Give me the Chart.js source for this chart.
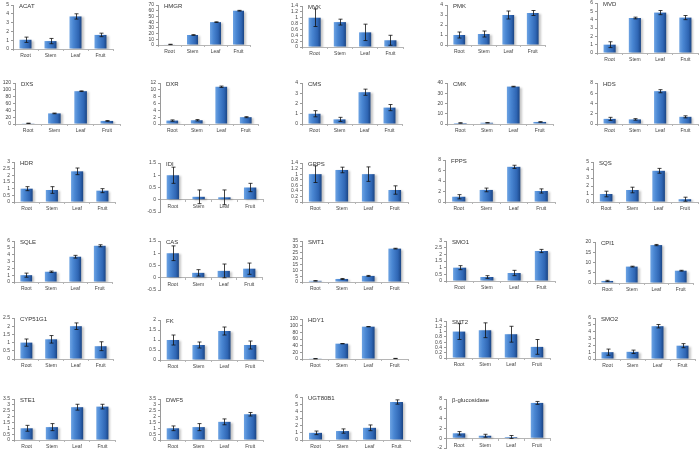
<!DOCTYPE html>
<html><head><meta charset="utf-8">
<script src="https://cdn.jsdelivr.net/npm/chart.js@4.4.1/dist/chart.umd.min.js"></script>
<style>
html,body{margin:0;padding:0;background:#fff;}
#wrap{position:relative;width:700px;height:452px;overflow:hidden;}
canvas{position:absolute;}
</style></head>
<body><div id="wrap"></div>
<script>
const categories = ['Root','Stem','Leaf','Fruit'];
const genes = ['ACAT','HMGR','MVK','PMK','MVD','DXS','DXR','CMS','CMK','HDS','HDR','IDI','GPPS','FPPS','SQS','SQLE','CAS','SMT1','SMO1','CPI1','CYP51G1','FK','HDY1','SMT2','SMO2','STE1','DWF5','UGT80B1','β-glucosidase'];
const expression = [
 [1.05,0.9,3.7,1.6],[1,17.5,40,60],[1.0,0.85,0.5,0.23],[1.0,1.1,3.0,3.2],[1.0,4.2,4.85,4.25],
 [2,31,96,9],[1.0,1.1,10.9,2.0],[1.0,0.45,3.1,1.6],[1,1.2,36.5,2],[1.0,0.9,6.4,1.4],
 [1.0,0.9,2.3,0.85],[1.0,0.12,0.1,0.5],[1.0,1.15,1.0,0.43],[1.0,2.3,6.7,2.1],[1.0,1.5,3.9,0.35],
 [1.0,1.5,3.7,5.3],[1.0,0.2,0.28,0.37],[1,2.6,5.2,28.5],[1.0,0.3,0.6,2.25],[1,8,18.5,6],
 [1.0,1.2,2.0,0.78],[1.0,0.75,1.45,0.75],[1,46,97,1.5],[1.0,1.05,0.9,0.42],[1.0,1.05,4.8,1.95],
 [1.0,1.1,2.8,2.85],[1.0,1.1,1.55,2.2],[1.0,1.25,1.7,5.3],[1.0,0.5,0.25,7.2]
];
const errorBars = [
 [0.3,0.3,0.3,0.2],[0.3,0.6,0.6,0.6],[0.3,0.1,0.28,0.17],[0.3,0.3,0.4,0.25],[0.35,0.1,0.25,0.25],
 [0.5,1,1,1],[0.2,0.2,0.2,0.15],[0.3,0.2,0.3,0.3],[0.2,0.2,0.3,0.2],[0.3,0.15,0.3,0.2],
 [0.15,0.25,0.25,0.15],[0.33,0.28,0.3,0.17],[0.3,0.1,0.26,0.15],[0.4,0.35,0.3,0.4],[0.35,0.35,0.3,0.25],
 [0.3,0.1,0.2,0.15],[0.3,0.13,0.28,0.23],[0.2,0.4,0.4,0.3],[0.15,0.1,0.2,0.12],[0.3,0.2,0.3,0.2],
 [0.22,0.23,0.2,0.27],[0.25,0.15,0.2,0.2],[0.3,0.5,0.5,0.3],[0.3,0.28,0.3,0.28],[0.45,0.25,0.25,0.3],
 [0.25,0.3,0.25,0.2],[0.2,0.3,0.25,0.15],[0.25,0.3,0.4,0.3],[0.35,0.3,0.3,0.3]
];
const axisMax  = [5,70,1.4,4,6, 120,12,4,40,8, 3,1.5,1.4,8,5, 6,1.5,35,3,20, 2.5,2,120,1.4,6, 3.5,3.5,6,8];
const axisMin  = [0,0,0,0,0, 0,0,0,0,0, 0,-0.5,0,0,0, 0,-0.5,0,0,0, 0,0,0,0,0, 0,0,0,-2];
const axisStep = [1,10,0.2,1,1, 20,2,1,10,2, 0.5,0.5,0.2,2,1, 1,0.5,5,0.5,5, 0.5,0.5,20,0.2,1, 0.5,0.5,1,2];

// layout: [axis x, axis end x, top tick y, bottom of axis y]
const panelBoxes = [
 [13,113,5,49],[158,250,5,45],[302,403,6,47],[447,545,5,45],[597,698,3,53],
 [15,120,83,124],[160,258,83,124],[302,402,83,124],[447,553,83,124],[597,698,83,124],
 [14,115,162,202],[160,263,163,213],[302,408,163,202],[445,555,160,202],[593,698,162,202],
 [14,112,241,282],[160,262,241,291],[302,408,241,282],[446,555,241,281],[595,693,242,283],
 [14,113,318,359],[160,263,320,360],[302,408,319,359],[446,550,321,358],[595,695,318,359],
 [14,115,399,440],[160,263,399,440],[302,410,397,440],[446,550,399,449]
];

const BAR_PCT = 0.48;
const FONT = "'Liberation Sans', Arial, sans-serif";

const errPlugin = {
  id:'errbars',
  beforeDatasetsDraw(chart){
    const c = chart.ctx; c.save();
    c.shadowColor='rgba(0,0,0,0.22)'; c.shadowOffsetX=2; c.shadowOffsetY=1; c.shadowBlur=2;
  },
  afterDatasetsDraw(chart, args, opts){
    const c = chart.ctx; c.restore();
    const meta = chart.getDatasetMeta(0);
    const ys = chart.scales.y;
    const vals = chart.data.datasets[0].data;
    const errs = chart.data.datasets[0].errors;
    c.save(); c.strokeStyle='#111'; c.lineWidth=0.8;
    meta.data.forEach((el,i)=>{
      const x = Math.round(el.x)+0.5;
      const y1 = ys.getPixelForValue(vals[i]+errs[i]);
      const y2 = ys.getPixelForValue(vals[i]-errs[i]);
      c.beginPath();
      c.moveTo(x,y1); c.lineTo(x,y2);
      c.moveTo(x-2,y1); c.lineTo(x+2,y1);
      c.moveTo(x-2,y2); c.lineTo(x+2,y2);
      c.stroke();
    });
    c.restore();
    c.save();
    c.font = "6px " + FONT; c.fillStyle='#333'; c.textBaseline='middle'; c.textAlign='left';
    c.fillText(opts.text, chart.chartArea.left+6, chart.chartArea.top+1);
    c.restore();
  }
};

const wrap = document.getElementById('wrap');
genes.forEach((g, k)=>{
  const [ax, ae, top, bot] = panelBoxes[k];
  const yW = 16;
  const left = ax - yW;
  const cTop = top - 5;
  const width = ae - left + 3;
  const cBottom = bot + (axisMin[k] < 0 ? 4 : 14);
  const height = cBottom - cTop;
  const cv = document.createElement('canvas');
  cv.width = width; cv.height = height;
  cv.style.left = left+'px'; cv.style.top = cTop+'px';
  cv.style.width = width+'px'; cv.style.height = height+'px';
  wrap.appendChild(cv);
  const neg = axisMin[k] < 0;
  const xHeight = cBottom - bot;
  new Chart(cv, {
    type:'bar',
    data:{labels:categories, datasets:[{
      data: expression[k], errors: errorBars[k],
      backgroundColor:(ctx)=>{
        const ch = ctx.chart, xs = ch.scales && ch.scales.x;
        if(!xs || ctx.dataIndex===undefined || !isFinite(xs.width) || xs.width<=0) return '#3d77c6';
        const cx = xs.getPixelForValue(ctx.dataIndex);
        const w = xs.width/4*BAR_PCT;
        const gr = ch.ctx.createLinearGradient(cx-w/2,0,cx+w/2,0);
        gr.addColorStop(0,'#6da3e3'); gr.addColorStop(0.3,'#4a87d3');
        gr.addColorStop(0.75,'#2f66b4'); gr.addColorStop(1,'#1b4584');
        return gr;
      },
      borderWidth:0, barPercentage:BAR_PCT, categoryPercentage:1
    }]},
    options:{
      responsive:false, animation:false, devicePixelRatio:1,
      layout:{padding:{top:5,right:3,left:0,bottom: neg ? xHeight : 0}},
      plugins:{legend:{display:false}, tooltip:{enabled:false}, errbars:{text:g}},
      scales:{
        x:{
          position: neg ? {y:0} : 'bottom',
          grid:{display:true, drawOnChartArea:false, offset:true, tickLength:2, color:'#b5b5b5'},
          border:{color:'#b5b5b5', width:1},
          ticks:{font:{size:5, family:FONT}, color:'#444', padding:2, maxRotation:0, autoSkip:false},
          afterFit:(s)=>{ if(!neg) s.height = xHeight; }
        },
        y:{
          min:axisMin[k], max:axisMax[k],
          grid:{display:true, drawOnChartArea:false, tickLength:2, color:'#9a9a9a'},
          border:{color:'#9a9a9a', width:1},
          ticks:{stepSize:axisStep[k], autoSkip:false, font:{size:5, family:FONT}, color:'#444', padding:2,
                 callback:(v)=>String(Math.round(v*100)/100)},
          afterFit:(s)=>{ s.width = yW; }
        }
      }
    },
    plugins:[errPlugin]
  });
});
</script></body></html>
